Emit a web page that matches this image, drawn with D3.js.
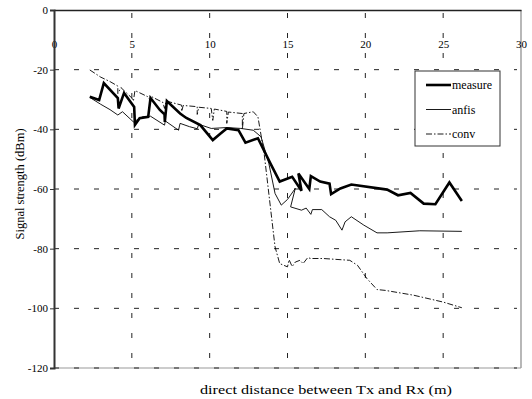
<!DOCTYPE html>
<html lang="en">
<head>
<meta charset="UTF-8">
<title>Signal strength vs distance</title>
<style>
    body { margin: 0; background: #fff; }
    svg text { font-family: "Liberation Serif", "Times New Roman", serif; fill: #000; }
    .grid line { stroke: #222; stroke-width: 1; stroke-dasharray: 5,15; }
</style>
</head>
<body>
<svg id="chart"></svg>
<script src="https://cdn.jsdelivr.net/npm/d3@7"></script>
<script>
// series as [distance (m), signal (dBm)]
var measureData = [
    [2.3,-29.1],[2.9,-30.2],[3.2,-24.5],[4.1,-29.5],[4.15,-33],[4.5,-27.8],[5.15,-32.5],[5.2,-38.5],
    [5.5,-36.3],[6.05,-35.8],[6.2,-29.5],[6.8,-33.5],[7.1,-35],[7.12,-37.5],[7.25,-30.5],[8.1,-34.7],
    [8.5,-36.2],[9.4,-38.6],[10.2,-43.6],[10.7,-41.4],[11.1,-39.7],[11.85,-40.3],[12.3,-44.5],
    [13.1,-43],[13.9,-51.4],[14.5,-57.5],[15.3,-55.9],[15.9,-60.6],[15.7,-54.8],[16.4,-60],
    [16.5,-55.7],[17.1,-57.5],[17.7,-58.2],[17.8,-61.7],[18.4,-59.8],[19.1,-58.5],[21.4,-60.2],
    [22.1,-62.1],[22.9,-61.3],[23.75,-64.9],[24.5,-65.1],[25.4,-57.8],[26.2,-64]
];
var anfisData = [
    [2.3,-29.3],[3.0,-31.6],[3.6,-33.4],[4.1,-35.2],[4.4,-34.1],[5.1,-37.5],[5.7,-35.8],[6.2,-35.6],
    [7.1,-38.6],[7.15,-37.2],[8.0,-40.3],[8.1,-38],[8.7,-39.1],[9.2,-39.8],[9.3,-38.3],[10.1,-39.7],
    [11.1,-39.4],[12.0,-39.7],[12.8,-40.3],[13.3,-42.5],[13.8,-51.4],[14.2,-61.5],[14.6,-65.4],
    [15.0,-63.5],[15.5,-59.8],[15.2,-66],[15.9,-67.1],[16.2,-66.4],[16.5,-68.5],[16.6,-66.9],
    [17.2,-66.9],[17.7,-69.3],[18.1,-70.5],[18.5,-73.8],[18.7,-71],[19.1,-69.3],[19.9,-72.1],
    [20.75,-74.7],[21.4,-74.7],[23.5,-74],[26.2,-74.2]
];
var convData = [
    [2.3,-20.1],[3.0,-22.5],[3.6,-24],[4.1,-25.5],[4.1,-28],[4.3,-26],[5.0,-29.5],[5.1,-30.5],
    [5.2,-27],[6.0,-29],[6.2,-30.5],[6.25,-29],[7.0,-31],[7.1,-33],[7.2,-30.5],[8.2,-31.9],
    [8.2,-34],[8.3,-32],[9.2,-32.4],[9.2,-35],[9.3,-32.6],[10.1,-33],[10.2,-37],[10.3,-33.2],
    [11.1,-34],[11.1,-38],[11.2,-34.2],[12.1,-34.7],[12.1,-40],[12.2,-34.7],[12.8,-34.1],
    [13.1,-35.8],[13.5,-48.1],[13.9,-66],[14.2,-79.4],[14.5,-85],[15.0,-86.1],[15.1,-83.7],
    [15.3,-86],[15.5,-84.5],[15.8,-83.9],[16.0,-85],[16.3,-83],[16.5,-83.3],[17.3,-83.3],
    [19.0,-83.9],[19.5,-85.6],[20.1,-90],[20.75,-93.7],[21.3,-94],[23.1,-95.6],[25.0,-97.9],
    [26.2,-99.8]
];
var xTicks = [0, 5, 10, 15, 20, 25, 30];
var yTicks = [0, -20, -40, -60, -80, -100, -120];
var seriesNames = ["measure", "anfis", "conv"];

(function () {
    var width = 532, height = 399;
    var left = 54, right = 521, plotTop = 10, plotBottom = 368;

    var svg = d3.select("#chart").attr("width", width).attr("height", height);

    var x = d3.scaleLinear().domain([0, 30]).range([left, right]);
    var y = d3.scaleLinear().domain([-120, 0]).range([plotBottom, plotTop]);

    // frame (right and bottom sides are grey)
    svg.append("line").attr("x1", right).attr("x2", right).attr("y1", plotTop).attr("y2", plotBottom)
        .attr("stroke", "#888").attr("stroke-width", 1.2);
    svg.append("line").attr("x1", left).attr("x2", right).attr("y1", plotBottom).attr("y2", plotBottom)
        .attr("stroke", "#999").attr("stroke-width", 1.2);

    // dashed grid
    var grid = svg.append("g").attr("class", "grid");
    grid.selectAll(".gx").data(xTicks.filter(function (d) { return d > 0 && d < 30; }))
        .enter().append("line")
        .attr("x1", function (d) { return x(d); }).attr("x2", function (d) { return x(d); })
        .attr("y1", plotTop + 3).attr("y2", plotBottom);
    grid.selectAll(".gy").data(yTicks.filter(function (d) { return d < 0; }))
        .enter().append("line")
        .attr("x1", left).attr("x2", right - 4)
        .attr("y1", function (d) { return y(d); }).attr("y2", function (d) { return y(d); });

    // x axis sits at y = 0 (top), labels below it
    var xAxis = svg.append("g").attr("transform", "translate(0," + plotTop + ")")
        .call(d3.axisBottom(x).tickValues(xTicks).tickSize(0).tickPadding(30)
            .tickFormat(function (d) { return String(d); }));
    xAxis.select(".domain").attr("stroke", "#222").attr("stroke-width", 1.5);
    xAxis.selectAll("text").attr("font-size", 11).attr("font-family", "Liberation Serif");

    var yAxis = svg.append("g").attr("transform", "translate(" + left + ",0)")
        .call(d3.axisLeft(y).tickValues(yTicks).tickSize(4).tickPadding(2)
            .tickFormat(function (d) { return String(d); }));
    yAxis.select(".domain").attr("stroke", "#333").attr("stroke-width", 2);
    yAxis.selectAll("line").attr("stroke", "#333");
    yAxis.selectAll("text").attr("font-size", 11).attr("font-family", "Liberation Serif");

    // lines
    var line = d3.line().x(function (d) { return x(d[0]); }).y(function (d) { return y(d[1]); });

    svg.append("path").datum(convData).attr("d", line).attr("fill", "none")
        .attr("stroke", "#000").attr("stroke-width", 0.9).attr("stroke-dasharray", "6,2,1.5,2");
    svg.append("path").datum(anfisData).attr("d", line).attr("fill", "none")
        .attr("stroke", "#000").attr("stroke-width", 0.9);
    svg.append("path").datum(measureData).attr("d", line).attr("fill", "none")
        .attr("stroke", "#000").attr("stroke-width", 2.6).attr("stroke-linejoin", "miter");

    // legend
    var lg = svg.append("g").attr("transform", "translate(415,71)");
    lg.append("rect").attr("width", 85).attr("height", 75)
        .attr("fill", "#fff").attr("stroke", "#333").attr("stroke-width", 1);
    var styles = [
        { w: 2.6, dash: null },
        { w: 0.9, dash: null },
        { w: 0.9, dash: "6,2,1.5,2" }
    ];
    seriesNames.forEach(function (name, i) {
        var yy = 14 + i * 24.5;
        lg.append("line").attr("x1", 11).attr("x2", 36).attr("y1", yy).attr("y2", yy)
            .attr("stroke", "#000").attr("stroke-width", styles[i].w)
            .attr("stroke-dasharray", styles[i].dash);
        lg.append("text").attr("x", 37).attr("y", yy + 4).attr("font-size", 12).text(name);
    });

    // axis titles
    svg.append("text").attr("transform", "translate(24,184) rotate(-90)")
        .attr("text-anchor", "middle").attr("font-size", 12.5).text("Signal strength (dBm)");
    svg.append("text").attr("x", 326).attr("y", 394)
        .attr("text-anchor", "middle").attr("font-size", 13)
        .attr("textLength", 252).attr("lengthAdjust", "spacingAndGlyphs")
        .text("direct distance between Tx and Rx (m)");
})();
</script>
</body>
</html>
